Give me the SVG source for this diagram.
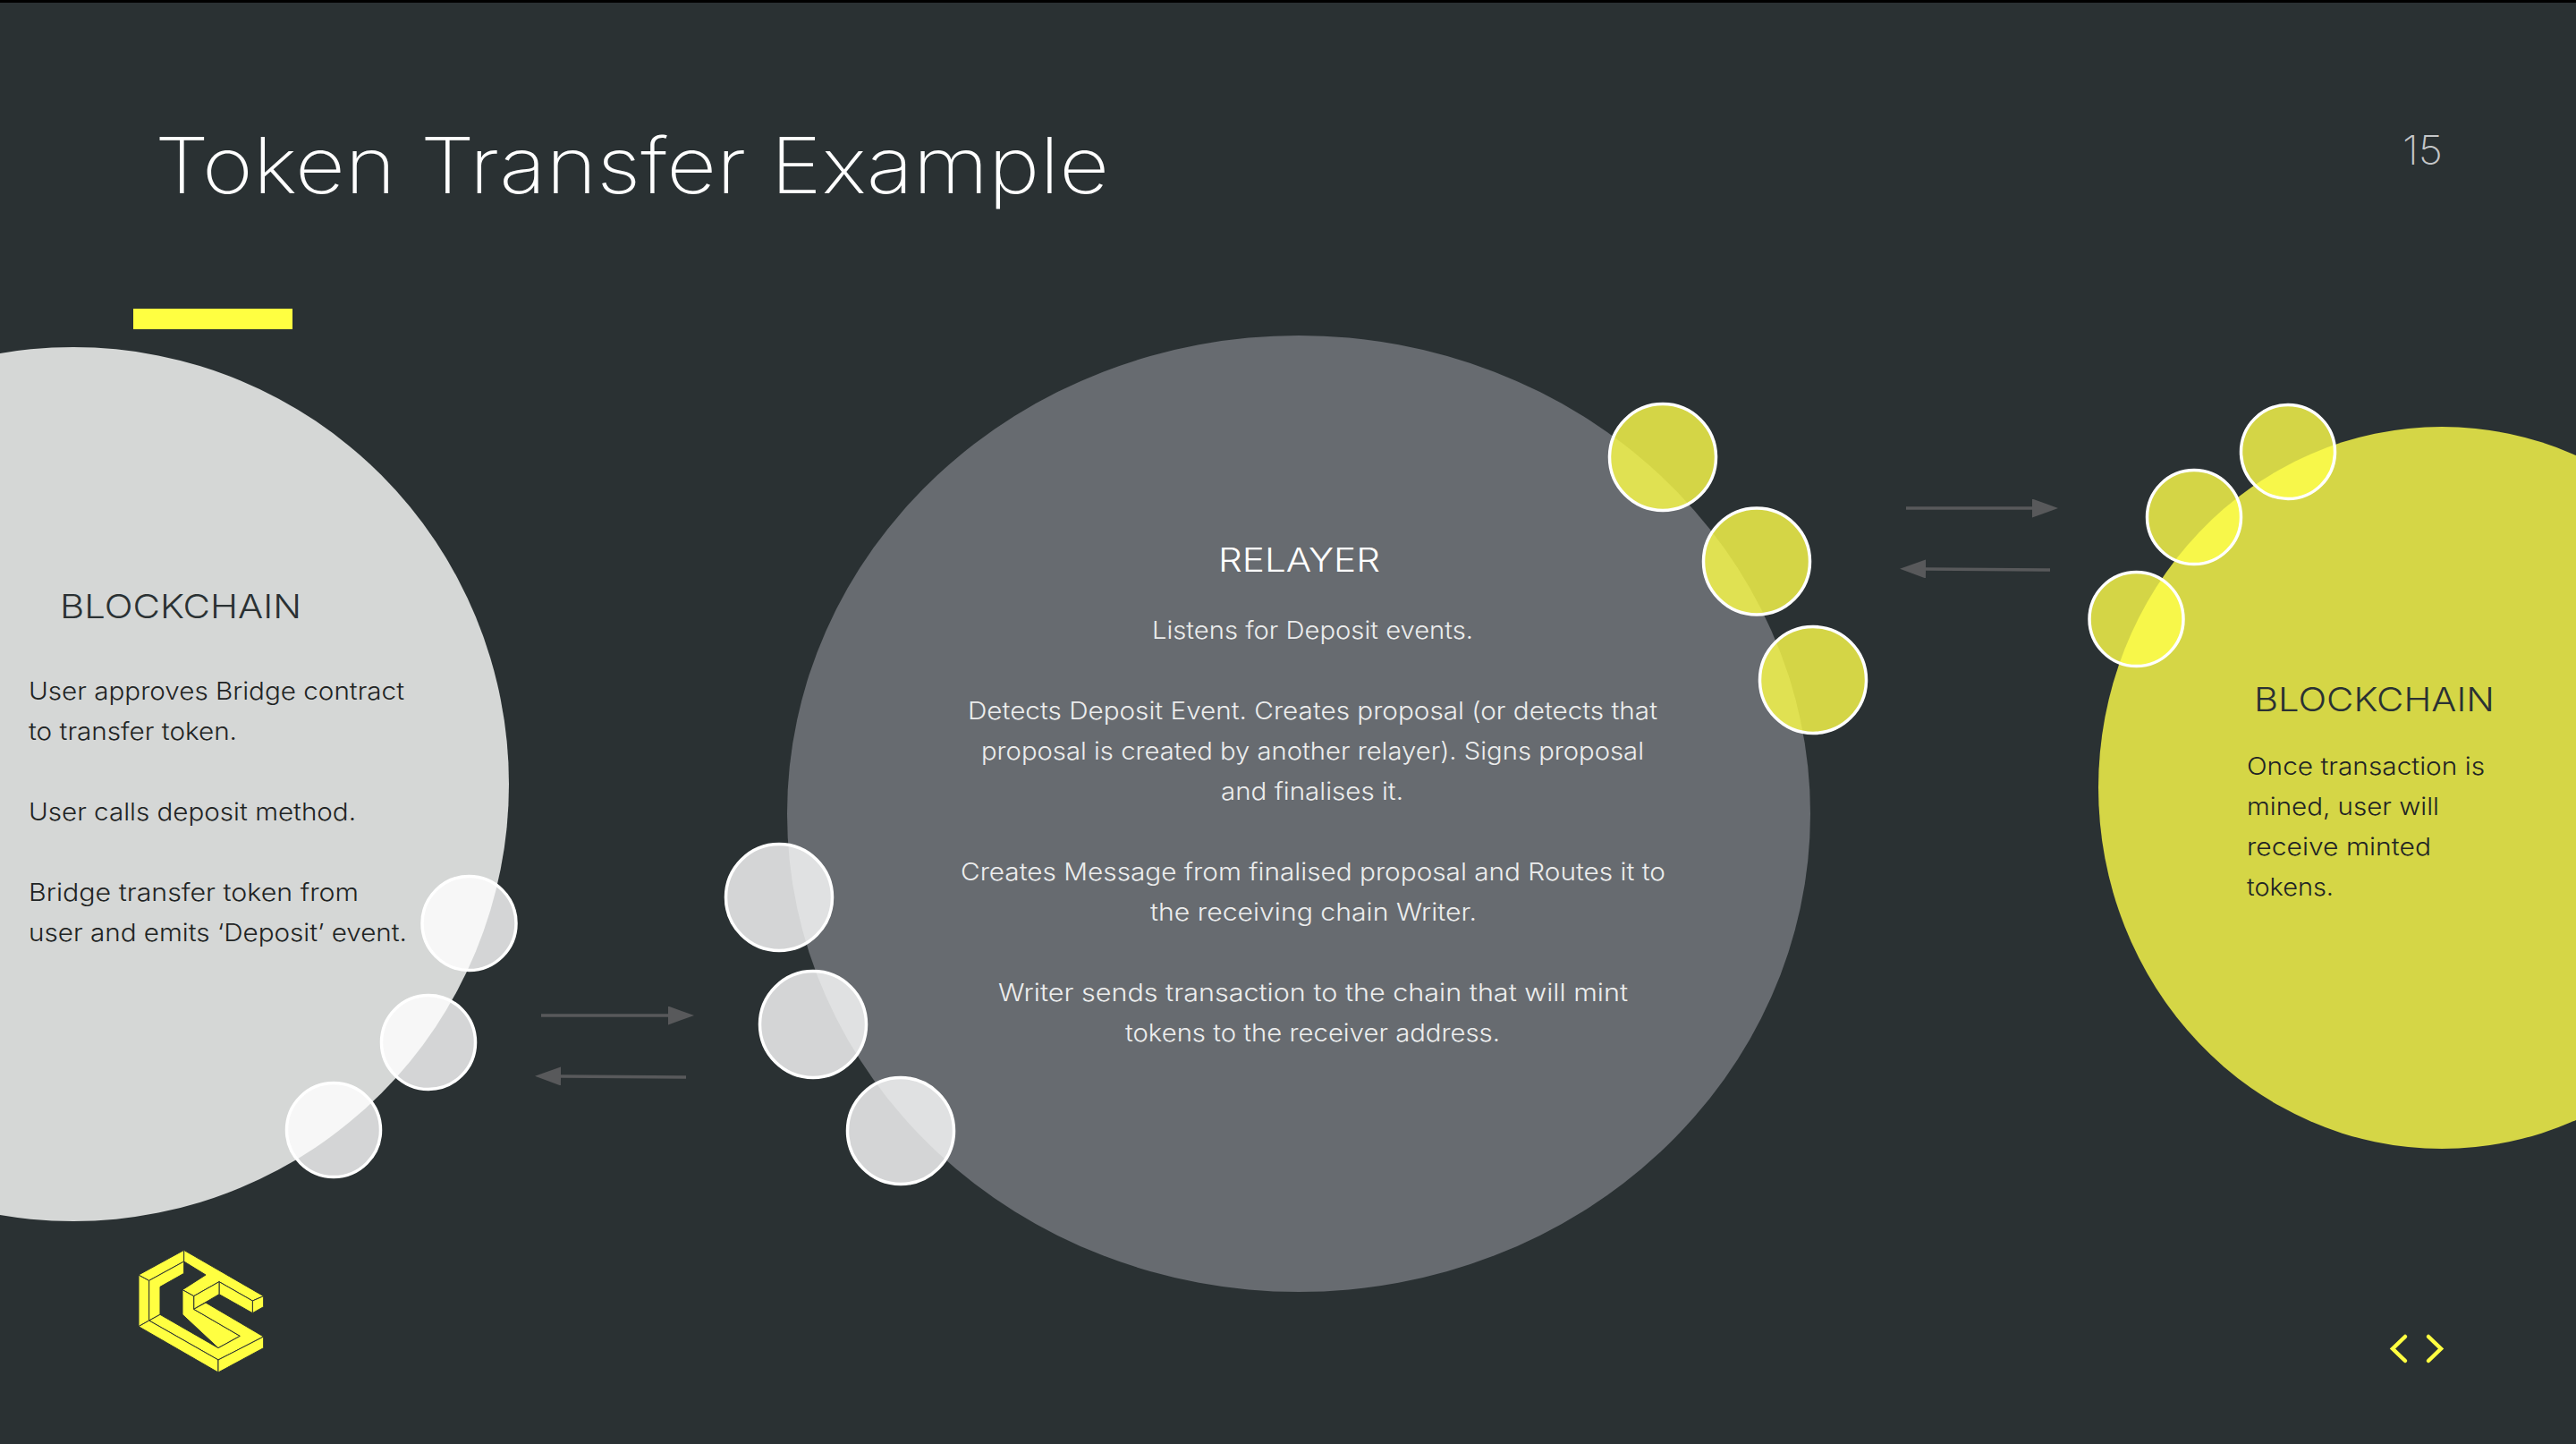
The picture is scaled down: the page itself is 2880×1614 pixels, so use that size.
<svg xmlns="http://www.w3.org/2000/svg" width="2880" height="1614" viewBox="0 0 2880 1614">
  <style>
    text { font-family: "Inter", "Noto Sans", "Liberation Sans", sans-serif; font-weight: 300; }
    .title { font-size: 86px; font-weight: 200; fill: #ffffff; }
    .num { font-size: 45px; font-weight: 200; fill: #c4c6c8; }
    .headD { font-size: 37px; fill: #2a3133; }
    .headL { font-size: 37px; fill: #ffffff; }
    .bodyK { font-size: 27.500px; fill: #1f2424; }
    .bodyL { font-size: 27.500px; fill: #eceded; }
    .wp { fill: #ffffff; fill-opacity: 0.8; stroke: #ffffff; stroke-width: 3.5; }
    .yp { fill: #ffff4b; fill-opacity: 0.8; stroke: #ffffff; stroke-width: 3.5; }
    .arrow { fill: none; stroke: #58595b; stroke-width: 3.5; }
    .ch { fill: none; stroke: #ffff41; stroke-width: 4.5; stroke-linecap: round; stroke-linejoin: miter; }
    .lg polygon { fill: #ffff41; stroke: #2a3133; stroke-width: 3; stroke-linejoin: round; }
  </style>
  <defs>
    <marker id="ah" markerUnits="userSpaceOnUse" markerWidth="29" markerHeight="21" refX="0" refY="10.5" orient="auto">
      <path d="M0,0 L29,10.5 L0,21 Z" fill="#58595b"/>
    </marker>
  </defs>
  <rect id="background" x="0" y="0" width="2880" height="1614" fill="#2a3133"/>
  <rect id="top-edge" x="0" y="0" width="2880" height="3" fill="#000000"/>
  <text class="title" x="173" y="216" textLength="1067" lengthAdjust="spacingAndGlyphs">Token Transfer Example</text>
  <text class="num" x="2686" y="184" textLength="45" lengthAdjust="spacingAndGlyphs">15</text>
  <rect id="accent-bar" x="149" y="345" width="178" height="23" fill="#ffff41"/>

  <g id="node-blockchain-left">
    <ellipse cx="82" cy="876.500" rx="487" ry="488.500" fill="#d5d7d6"/>
    <text class="headD" x="67" y="691" textLength="270" lengthAdjust="spacingAndGlyphs">BLOCKCHAIN</text>
    <text class="bodyK" x="32" y="782" textLength="420" lengthAdjust="spacingAndGlyphs">User approves Bridge contract</text>
    <text class="bodyK" x="32" y="827" textLength="233" lengthAdjust="spacingAndGlyphs">to transfer token.</text>
    <text class="bodyK" x="32" y="917" textLength="366" lengthAdjust="spacingAndGlyphs">User calls deposit method.</text>
    <text class="bodyK" x="32" y="1007" textLength="369" lengthAdjust="spacingAndGlyphs">Bridge transfer token from</text>
    <text class="bodyK" x="32" y="1052" textLength="423" lengthAdjust="spacingAndGlyphs">user and emits ‘Deposit’ event.</text>
  </g>
  <g id="node-relayer">
    <ellipse cx="1452" cy="909.500" rx="572" ry="534.500" fill="#676b70"/>
    <text class="headL" x="1362" y="639" textLength="181" lengthAdjust="spacingAndGlyphs">RELAYER</text>
    <text class="bodyL" x="1288" y="714" textLength="359" lengthAdjust="spacingAndGlyphs">Listens for Deposit events.</text>
    <text class="bodyL" x="1082" y="804" textLength="771" lengthAdjust="spacingAndGlyphs">Detects Deposit Event. Creates proposal (or detects that</text>
    <text class="bodyL" x="1097" y="849" textLength="741" lengthAdjust="spacingAndGlyphs">proposal is created by another relayer). Signs proposal</text>
    <text class="bodyL" x="1365" y="894" textLength="204" lengthAdjust="spacingAndGlyphs">and finalises it.</text>
    <text class="bodyL" x="1074" y="984" textLength="788" lengthAdjust="spacingAndGlyphs">Creates Message from finalised proposal and Routes it to</text>
    <text class="bodyL" x="1286" y="1029" textLength="365" lengthAdjust="spacingAndGlyphs">the receiving chain Writer.</text>
    <text class="bodyL" x="1116" y="1119" textLength="704" lengthAdjust="spacingAndGlyphs">Writer sends transaction to the chain that will mint</text>
    <text class="bodyL" x="1258" y="1164" textLength="419" lengthAdjust="spacingAndGlyphs">tokens to the receiver address.</text>
  </g>
  <g id="node-blockchain-right">
    <ellipse cx="2730" cy="880.500" rx="384" ry="403.500" fill="#d5d646"/>
    <text class="headD" x="2520" y="795" textLength="269" lengthAdjust="spacingAndGlyphs">BLOCKCHAIN</text>
    <text class="bodyK" x="2512" y="866" textLength="266" lengthAdjust="spacingAndGlyphs">Once transaction is</text>
    <text class="bodyK" x="2512" y="911" textLength="215" lengthAdjust="spacingAndGlyphs">mined, user will</text>
    <text class="bodyK" x="2512" y="956" textLength="206" lengthAdjust="spacingAndGlyphs">receive minted</text>
    <text class="bodyK" x="2512" y="1001" textLength="97" lengthAdjust="spacingAndGlyphs">tokens.</text>
  </g>

  <g id="node-port-left-1"><circle class="wp" cx="524.500" cy="1032" r="52.500"/></g>
  <g id="node-port-left-2"><circle class="wp" cx="479" cy="1165" r="52.500"/></g>
  <g id="node-port-left-3"><circle class="wp" cx="373" cy="1263" r="52.500"/></g>
  <g id="node-port-mid-1"><circle class="wp" cx="871" cy="1003" r="59.500"/></g>
  <g id="node-port-mid-2"><circle class="wp" cx="909" cy="1145" r="59.500"/></g>
  <g id="node-port-mid-3"><circle class="wp" cx="1007" cy="1264" r="59.500"/></g>
  <g id="node-port-mid-4"><circle class="yp" cx="1859" cy="511" r="59.500"/></g>
  <g id="node-port-mid-5"><circle class="yp" cx="1964" cy="627.500" r="59.500"/></g>
  <g id="node-port-mid-6"><circle class="yp" cx="2027" cy="760" r="59.500"/></g>
  <g id="node-port-right-1"><circle class="yp" cx="2558" cy="505" r="52.500"/></g>
  <g id="node-port-right-2"><circle class="yp" cx="2453" cy="578" r="52.500"/></g>
  <g id="node-port-right-3"><circle class="yp" cx="2388.500" cy="692" r="52.500"/></g>

  <g id="connectors">
    <line class="arrow" x1="605" y1="1135" x2="747" y2="1135" marker-end="url(#ah)"/>
    <line class="arrow" x1="767" y1="1204" x2="627" y2="1203" marker-end="url(#ah)"/>
    <line class="arrow" x1="2131" y1="568" x2="2272" y2="568" marker-end="url(#ah)"/>
    <line class="arrow" x1="2292" y1="637" x2="2153" y2="636" marker-end="url(#ah)"/>
  </g>

  <g id="logo" class="lg" transform="translate(120 1370) scale(0.33333)">
    <polygon points="105,165 140,184 140,318 105,338"/>
    <polygon points="105,165 257,82 257,120 140,184"/>
    <polygon points="140,184 257,120 257,160 177,205 177,298 140,318"/>
    <polygon points="257,82 524,236 487,252 375,188 290,236 252,215 330,165 257,120"/>
    <polygon points="487,252 524,236 524,272 487,293"/>
    <polygon points="375,188 487,252 487,293 375,230"/>
    <polygon points="290,236 375,188 375,230 290,280"/>
    <polygon points="252,215 290,236 290,280 445,370 372,410 252,298"/>
    <polygon points="140,318 177,298 372,410 445,370 290,280 330,258 524,372 372,450"/>
    <polygon points="105,338 140,318 372,450 372,492"/>
    <polygon points="372,450 524,372 524,410 372,492"/>
  </g>

  <g id="nav">
    <polyline class="ch" points="2689,1494 2675,1507.500 2689,1521"/>
    <polyline class="ch" points="2715,1494 2729,1507.500 2715,1521"/>
  </g>
</svg>
